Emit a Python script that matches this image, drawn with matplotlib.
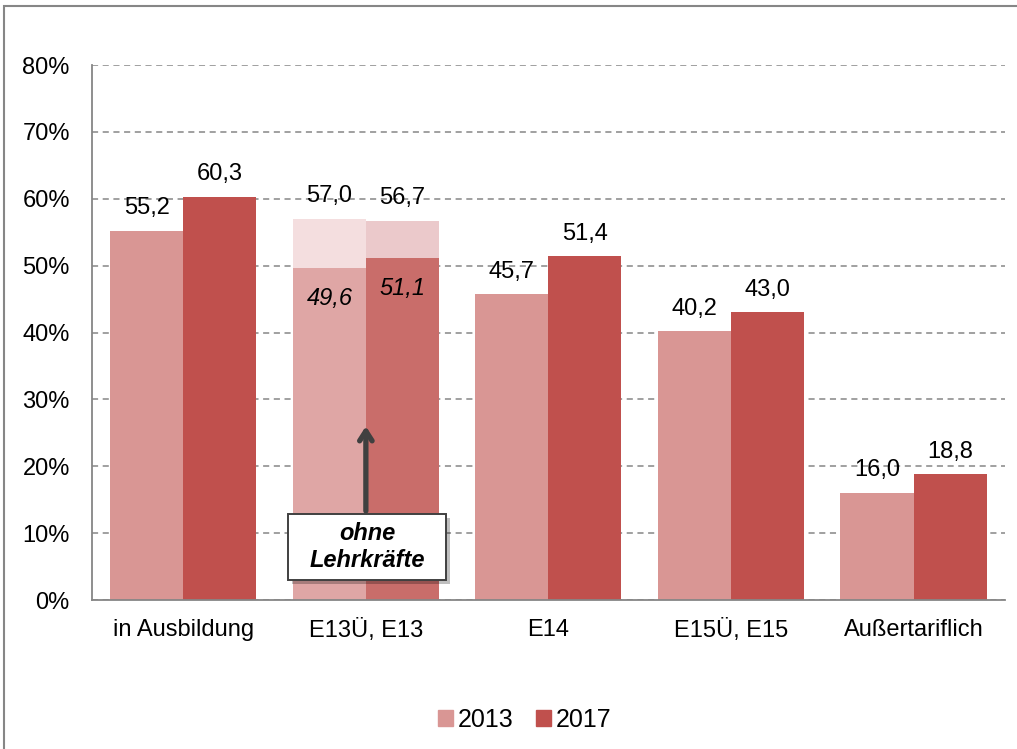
import matplotlib.pyplot as plt
from matplotlib.patches import Rectangle, Patch
import numpy as np

plt.rcParams['font.family'] = ['Liberation Sans', 'DejaVu Sans']

categories = ["in Ausbildung", "E13Ü, E13", "E14", "E15Ü, E15", "Außertariflich"]
values_2013 = [55.2, 57.0, 45.7, 40.2, 16.0]
values_2017 = [60.3, 56.7, 51.4, 43.0, 18.8]
# E13 without teachers ("ohne Lehrkräfte")
e13_ohne = [49.6, 51.1]
yticks = [0, 10, 20, 30, 40, 50, 60, 70, 80]

c2013 = "#D99694"
c2017 = "#C0504D"
c2013_light = "#F4DEDF"
c2017_light = "#EBC9CB"
c2013_mid = "#DFA6A5"
c2017_mid = "#C96D6A"
fs = 17

fig = plt.figure(figsize=(10.17, 7.49), dpi=100)
ax = fig.add_axes([0.0905, 0.1989, 0.8975, 0.7143])

x = np.arange(len(categories))
w = 0.4
cols13 = [c2013] * len(x)
cols17 = [c2017] * len(x)
cols13[1] = c2013_light
cols17[1] = c2017_light
ax.bar(x - w/2, values_2013, width=w, color=cols13, zorder=2)
ax.bar(x + w/2, values_2017, width=w, color=cols17, zorder=2)
ax.bar([1 - w/2], [e13_ohne[0]], width=w, color=c2013_mid, zorder=2)
ax.bar([1 + w/2], [e13_ohne[1]], width=w, color=c2017_mid, zorder=2)

def fmt(v):
    return f"{v:.1f}".replace(".", ",")

for xi, v in zip(x, values_2013):
    ax.annotate(fmt(v), (xi - w/2, v), xytext=(0, 8.3),
                textcoords="offset points", ha="center", va="bottom", fontsize=fs, zorder=6)
for xi, v in zip(x, values_2017):
    ax.annotate(fmt(v), (xi + w/2, v), xytext=(0, 8.3),
                textcoords="offset points", ha="center", va="bottom", fontsize=fs, zorder=6)
for dx, v in zip([-w/2, w/2], e13_ohne):
    ax.annotate(fmt(v), (1 + dx, v), xytext=(0, -13.5),
                textcoords="offset points", ha="center", va="top", fontsize=fs,
                style="italic", zorder=6)

# arrow + box "ohne Lehrkräfte"
ax.annotate("", xy=(1, 26.4), xytext=(1, 12.9),
            arrowprops=dict(arrowstyle="->,head_length=0.7,head_width=0.45",
                            color="#404040", lw=3.8), zorder=4)
bx0, bx1, by0, by1 = 0.573, 1.439, 2.99, 12.86
ax.add_patch(Rectangle((bx0 + 0.02, by0 - 0.6), bx1 - bx0, by1 - by0,
                       fc="black", ec="none", alpha=0.25, zorder=4))
ax.add_patch(Rectangle((bx0, by0), bx1 - bx0, by1 - by0,
                       fc="white", ec="#404040", lw=1.4, zorder=5))
ax.text((bx0 + bx1) / 2, (by0 + by1) / 2, "ohne\nLehrkräfte", ha="center", va="center",
        fontsize=fs, style="italic", weight="bold", linespacing=1.2, zorder=6)

ax.set_xlim(-0.5, len(categories) - 0.5)
ax.set_ylim(0, 80)
ax.set_yticks(yticks)
ax.set_yticklabels([f"{v}%" for v in yticks], fontsize=fs)
ax.set_xticks(x)
ax.set_xticklabels(categories, fontsize=fs)
ax.tick_params(axis="x", length=0, pad=14)
ax.tick_params(axis="y", length=0, pad=16)
ax.yaxis.grid(True, linestyle=(0, (4, 3)), color="#868686", lw=1.1, zorder=1)
for s in ["top", "right"]:
    ax.spines[s].set_visible(False)
for s in ["left", "bottom"]:
    ax.spines[s].set_color("#868686")
    ax.spines[s].set_linewidth(1.3)

handles = [Patch(color=c2013, label="2013"), Patch(color=c2017, label="2017")]
fig.legend(handles=handles, loc="center", bbox_to_anchor=(0.516, 0.039), ncol=2,
           frameon=False, fontsize=18, handlelength=0.6, handleheight=0.6,
           handletextpad=0.2, columnspacing=0.9)

fig.patches.append(Rectangle((4/1017, -0.05), 1.1, (749 - 6)/749 + 0.05, transform=fig.transFigure,
                             fill=False, ec="#868686", lw=1.5))

fig.savefig("out.png", dpi=100)
